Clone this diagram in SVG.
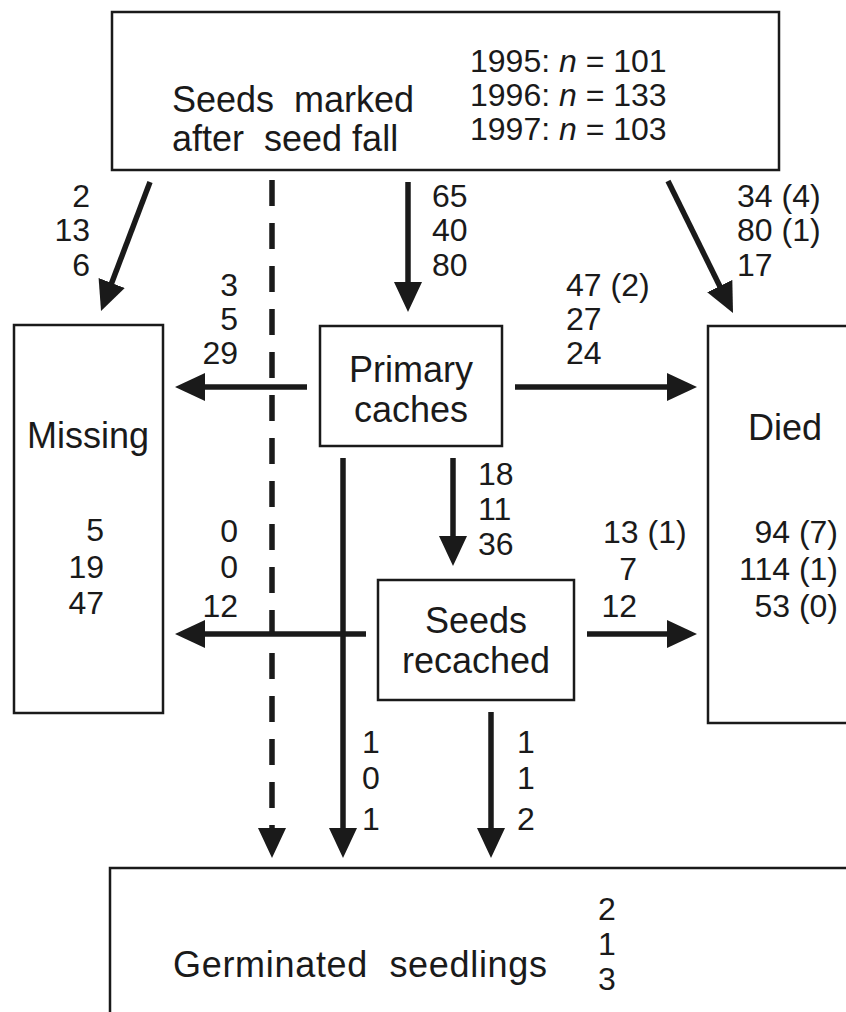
<svg xmlns="http://www.w3.org/2000/svg" width="846" height="1012" viewBox="0 0 846 1012">
<style>
text{font-family:"Liberation Sans",Arial,sans-serif;fill:#1a1a1a}
.t{font-size:36px}
.n{font-size:32px}
.e{text-anchor:end}
.m{text-anchor:middle}
.box{fill:#fff;stroke:#1a1a1a;stroke-width:2.5}
.c{stroke:#1a1a1a;stroke-width:5.5;fill:none;marker-end:url(#ah)}
.d{stroke-dasharray:26 17}
</style>
<defs>
<marker id="ah" markerUnits="userSpaceOnUse" markerWidth="32" markerHeight="30" refX="18" refY="14" orient="auto">
<path d="M0,0 L30,14 L0,28 Z" fill="#1a1a1a"/>
</marker>
</defs>
<rect width="846" height="1012" fill="#fff"/>
<g id="connectors">
<line class="c" x1="150" y1="182" x2="105.3" y2="299.8"/>
<line class="c d" x1="272" y1="180" x2="272" y2="846"/>
<line class="c" x1="408" y1="182" x2="408" y2="300"/>
<line class="c" x1="668" y1="181" x2="727.7" y2="302.2"/>
<line class="c" x1="307" y1="387" x2="187" y2="387"/>
<line class="c" x1="515" y1="387" x2="685" y2="387"/>
<line class="c" x1="453" y1="458" x2="453" y2="554"/>
<line class="c" x1="343" y1="458" x2="343" y2="846"/>
<line class="c" x1="366" y1="634" x2="187" y2="634"/>
<line class="c" x1="587" y1="634" x2="685" y2="634"/>
<line class="c" x1="491" y1="712" x2="491" y2="846"/>
</g>
<g id="labels">
<text class="n e" x="90" y="207">2</text>
<text class="n e" x="90" y="241">13</text>
<text class="n e" x="90" y="276">6</text>
<text class="n" x="432" y="207">65</text>
<text class="n" x="432" y="241">40</text>
<text class="n" x="432" y="276">80</text>
<text class="n" x="737" y="207">34 (4)</text>
<text class="n" x="737" y="241">80 (1)</text>
<text class="n" x="737" y="276">17</text>
<text class="n e" x="238" y="296">3</text>
<text class="n e" x="238" y="330">5</text>
<text class="n e" x="238" y="364">29</text>
<text class="n" x="566" y="296">47 (2)</text>
<text class="n" x="566" y="330">27</text>
<text class="n" x="566" y="364">24</text>
<text class="n" x="478" y="485">18</text>
<text class="n" x="478" y="520">11</text>
<text class="n" x="478" y="555">36</text>
<text class="n e" x="238" y="542">0</text>
<text class="n e" x="238" y="578">0</text>
<text class="n e" x="238" y="617">12</text>
<text class="n" x="603" y="543">13 (1)</text>
<text class="n e" x="637" y="580">7</text>
<text class="n e" x="637" y="617">12</text>
<text class="n" x="362" y="753">1</text>
<text class="n" x="362" y="789">0</text>
<text class="n" x="362" y="830">1</text>
<text class="n" x="517" y="753">1</text>
<text class="n" x="517" y="789">1</text>
<text class="n" x="517" y="830">2</text>
</g>
<g id="seeds-marked">
<rect class="box" x="112" y="12" width="667" height="158"/>
<text class="t" x="172" y="112" xml:space="preserve">Seeds  marked</text>
<text class="t" x="172" y="151" xml:space="preserve">after  seed fall</text>
<text class="n" x="470" y="72">1995: <tspan font-style="italic">n</tspan> = 101</text>
<text class="n" x="470" y="106">1996: <tspan font-style="italic">n</tspan> = 133</text>
<text class="n" x="470" y="140">1997: <tspan font-style="italic">n</tspan> = 103</text>
</g>
<g id="missing">
<rect class="box" x="14" y="325" width="149" height="388"/>
<text class="t m" x="88" y="448">Missing</text>
<text class="n e" x="104" y="541">5</text>
<text class="n e" x="104" y="578">19</text>
<text class="n e" x="104" y="614">47</text>
</g>
<g id="primary-caches">
<rect class="box" x="320" y="326" width="182" height="120"/>
<text class="t m" x="411" y="382">Primary</text>
<text class="t m" x="411" y="422">caches</text>
</g>
<g id="died">
<rect class="box" x="708" y="326" width="150" height="397"/>
<text class="t" x="748" y="440">Died</text>
<text class="n e" x="838" y="543">94 (7)</text>
<text class="n e" x="838" y="580">114 (1)</text>
<text class="n e" x="838" y="617">53 (0)</text>
</g>
<g id="seeds-recached">
<rect class="box" x="378" y="580" width="196" height="120"/>
<text class="t m" x="476" y="633">Seeds</text>
<text class="t m" x="476" y="673">recached</text>
</g>
<g id="germinated">
<rect class="box" x="110" y="868" width="760" height="160"/>
<text class="t" x="173" y="977" xml:space="preserve" textLength="374" lengthAdjust="spacing">Germinated  seedlings</text>
<text class="n" x="598" y="920">2</text>
<text class="n" x="598" y="955">1</text>
<text class="n" x="598" y="990">3</text>
</g>
</svg>
